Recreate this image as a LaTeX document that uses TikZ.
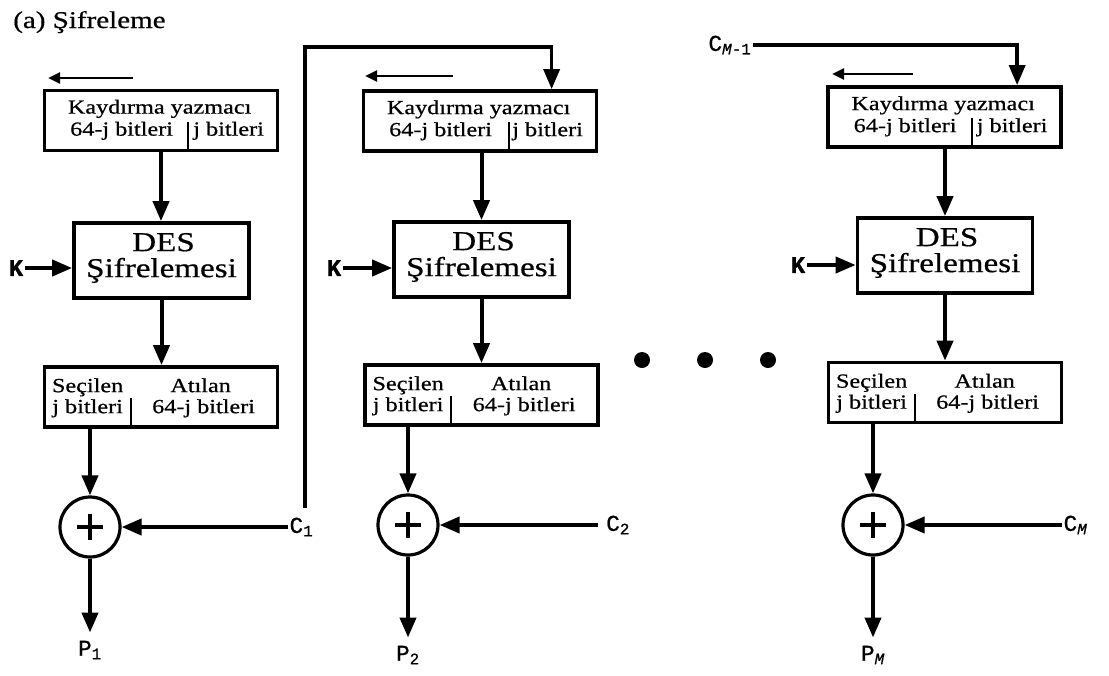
\documentclass[tikz,border=0pt]{standalone}
\usepackage{fontspec}
\setmainfont{Liberation Serif}[FakeStretch=1.21, FakeBold=0.6]
\newfontfamily\labfont{Liberation Mono}[FakeBold=0.8]
\usetikzlibrary{arrows.meta,calc}
\tikzset{
  box/.style={draw, line width=2.8pt, rectangle, inner sep=0pt},
  regbox/.style={box, minimum width=174.75pt, minimum height=45pt},
  desbox/.style={box, minimum width=131.25pt, minimum height=56.25pt},
  destxt/.style={inner sep=0pt, anchor=base, font=\fontsize{20.5}{20}\selectfont},
  xorc/.style={draw, circle, line width=2.4pt, minimum size=45pt, inner sep=0pt},
  txt/.style={inner sep=0pt, anchor=base, font=\fontsize{15}{17}\selectfont},
  lab/.style={inner sep=1pt, font=\labfont\fontsize{17}{19}\selectfont},
  klab/.style={inner sep=1pt, font=\labfont\bfseries\fontsize{18}{19}\selectfont},
  flow/.style={line width=3pt, -{Triangle[length=15pt,width=12pt]}},
  shiftarr/.style={line width=2.2pt, -{Triangle[length=9pt,width=8pt]}},
  divl/.style={line width=1.3pt},
  plus/.style={line width=2.4pt},
  bigdot/.style={circle, fill, inner sep=0pt, minimum size=12pt}
}
\begin{document}
\begin{tikzpicture}[x=0.75pt,y=-0.75pt]
\useasboundingbox[fill=white] (0,0) rectangle (1109,675);
\node[anchor=base west, inner sep=0pt, font=\fontsize{18}{20}\selectfont] (title) at (13,28) {(a) Şifreleme};

% ---------- column 1 ----------
\node[regbox] (reg1) at (161,120.5) {};
\node[txt] (r1a) at ($(reg1.north west)+(117,25)$) {Kaydırma yazmacı};
\node[txt] (r1b) at ($(reg1.north west)+(79,47)$) {64-j bitleri};
\node[txt] (r1c) at ($(reg1.north west)+(186,47)$) {j bitleri};
\draw[divl] ($(reg1.north west)+(145,33)$) -- ($(reg1.north west)+(145,60)$);
\node[desbox] (des1) at (161.5,260.5) {};
\node[destxt] (des1a) at ($(des1.north)+(2,30)$) {DES};
\node[destxt] (des1b) at ($(des1.north)+(0,56)$) {Şifrelemesi};
\node[regbox] (sel1) at (161,397) {};
\node[txt] (s1a) at ($(sel1.north west)+(45,27)$) {Seçilen};
\node[txt] (s1b) at ($(sel1.north west)+(158,27)$) {Atılan};
\node[txt] (s1c) at ($(sel1.north west)+(45,48)$) {j bitleri};
\node[txt] (s1d) at ($(sel1.north west)+(161,48)$) {64-j bitleri};
\draw[divl] ($(sel1.north west)+(88,33)$) -- ($(sel1.north west)+(88,60)$);
\node[xorc] (xor1) at (90,527) {};
\draw[plus] ($(xor1.center)+(-13,0)$) -- ($(xor1.center)+(13,0)$);
\draw[plus] ($(xor1.center)+(0,-13)$) -- ($(xor1.center)+(0,13)$);
\node[klab] (k1) at (16,268) {K};
\node[lab, anchor=west] (c1) at (288,527) {C\textsubscript{1}};
\node[lab] (p1) at (90,650) {P\textsubscript{1}};
\coordinate (sh1s) at (133,78);
\coordinate (sh1e) at (48,78);
\draw[shiftarr] (sh1s) -- (sh1e);
\draw[flow] (reg1.south) -- (reg1.south |- des1.north);
\draw[flow] (des1.south) -- (des1.south |- sel1.north);
\draw[flow] (xor1.north |- sel1.south) -- (xor1.north);
\draw[flow] (k1.east) -- (k1.east -| des1.west);
\draw[flow] (c1.west) -- (xor1.east);
\draw[flow, shorten >=5pt] (xor1.south) -- (xor1.south |- p1.north);

% ---------- column 2 ----------
\node[regbox] (reg2) at (480,121) {};
\node[txt] (r2a) at ($(reg2.north west)+(117,25)$) {Kaydırma yazmacı};
\node[txt] (r2b) at ($(reg2.north west)+(79,47)$) {64-j bitleri};
\node[txt] (r2c) at ($(reg2.north west)+(186,47)$) {j bitleri};
\draw[divl] ($(reg2.north west)+(147,33)$) -- ($(reg2.north west)+(147,60)$);
\node[desbox] (des2) at (481.5,259.5) {};
\node[destxt] (des2a) at ($(des2.north)+(2,30)$) {DES};
\node[destxt] (des2b) at ($(des2.north)+(0,56)$) {Şifrelemesi};
\node[regbox] (sel2) at (481.5,395) {};
\node[txt] (s2a) at ($(sel2.north west)+(45,27)$) {Seçilen};
\node[txt] (s2b) at ($(sel2.north west)+(158,27)$) {Atılan};
\node[txt] (s2c) at ($(sel2.north west)+(45,48)$) {j bitleri};
\node[txt] (s2d) at ($(sel2.north west)+(161,48)$) {64-j bitleri};
\draw[divl] ($(sel2.north west)+(88,33)$) -- ($(sel2.north west)+(88,60)$);
\node[xorc] (xor2) at (408,525) {};
\draw[plus] ($(xor2.center)+(-13,0)$) -- ($(xor2.center)+(13,0)$);
\draw[plus] ($(xor2.center)+(0,-13)$) -- ($(xor2.center)+(0,13)$);
\node[klab] (k2) at (334,268) {K};
\node[lab, anchor=west, inner xsep=6pt] (c2) at (598,525) {C\textsubscript{2}};
\node[lab] (p2) at (408,655) {P\textsubscript{2}};
\coordinate (sh2s) at (453,76);
\coordinate (sh2e) at (365,76);
\draw[shiftarr] (sh2s) -- (sh2e);
\draw[flow] (des2.north |- reg2.south) -- (des2.north);
\draw[flow] (des2.south) -- (des2.south |- sel2.north);
\draw[flow] (xor2.north |- sel2.south) -- (xor2.north);
\draw[flow] (k2.east) -- (k2.east -| des2.west);
\draw[flow] (c2.west) -- (xor2.east);
\draw[flow, shorten >=5pt] (xor2.south) -- (xor2.south |- p2.north);

% feedback C1 -> register 2
\coordinate (fb1) at (305,508);
\coordinate (in2) at ($(reg2.north west)+(190,0)$);
\draw[flow, line width=2.6pt] (fb1) |- ([yshift=31.5pt]in2) -- (in2);

% dots
\node[bigdot] (d1) at (642,360) {};
\node[bigdot] (d2) at (705,360) {};
\node[bigdot] (d3) at (768,360) {};

% ---------- column 3 ----------
\node[regbox] (reg3) at (944.5,117) {};
\node[txt] (r3a) at ($(reg3.north west)+(117,25)$) {Kaydırma yazmacı};
\node[txt] (r3b) at ($(reg3.north west)+(79,47)$) {64-j bitleri};
\node[txt] (r3c) at ($(reg3.north west)+(186,47)$) {j bitleri};
\draw[divl] ($(reg3.north west)+(146,33)$) -- ($(reg3.north west)+(146,60)$);
\node[desbox] (des3) at (945,255.5) {};
\node[destxt] (des3a) at ($(des3.north)+(2,30)$) {DES};
\node[destxt] (des3b) at ($(des3.north)+(0,56)$) {Şifrelemesi};
\node[regbox] (sel3) at (945,392.5) {};
\node[txt] (s3a) at ($(sel3.north west)+(45,27)$) {Seçilen};
\node[txt] (s3b) at ($(sel3.north west)+(158,27)$) {Atılan};
\node[txt] (s3c) at ($(sel3.north west)+(45,48)$) {j bitleri};
\node[txt] (s3d) at ($(sel3.north west)+(161,48)$) {64-j bitleri};
\draw[divl] ($(sel3.north west)+(88,33)$) -- ($(sel3.north west)+(88,60)$);
\node[xorc] (xor3) at (873,525) {};
\draw[plus] ($(xor3.center)+(-13,0)$) -- ($(xor3.center)+(13,0)$);
\draw[plus] ($(xor3.center)+(0,-13)$) -- ($(xor3.center)+(0,13)$);
\node[klab] (k3) at (798,265) {K};
\node[lab, anchor=west] (c3) at (1062,525) {C\textsubscript{\textit{M}}};
\node[lab] (p3) at (873,655) {P\textsubscript{\textit{M}}};
\node[lab] (cm1) at (730,45) {C\textsubscript{\textit{M}-1}};
\coordinate (sh3s) at (913,74);
\coordinate (sh3e) at (832,74);
\draw[shiftarr] (sh3s) -- (sh3e);
\coordinate (in3) at ($(reg3.north west)+(191,0)$);
\draw[flow, line width=2.6pt] (cm1.east) -| (in3);
\draw[flow] (des3.north |- reg3.south) -- (des3.north);
\draw[flow] (des3.south) -- (des3.south |- sel3.north);
\draw[flow] (xor3.north |- sel3.south) -- (xor3.north);
\draw[flow] (k3.east) -- (k3.east -| des3.west);
\draw[flow] (c3.west) -- (xor3.east);
\draw[flow, shorten >=5pt] (xor3.south) -- (xor3.south |- p3.north);
\end{tikzpicture}
\end{document}
